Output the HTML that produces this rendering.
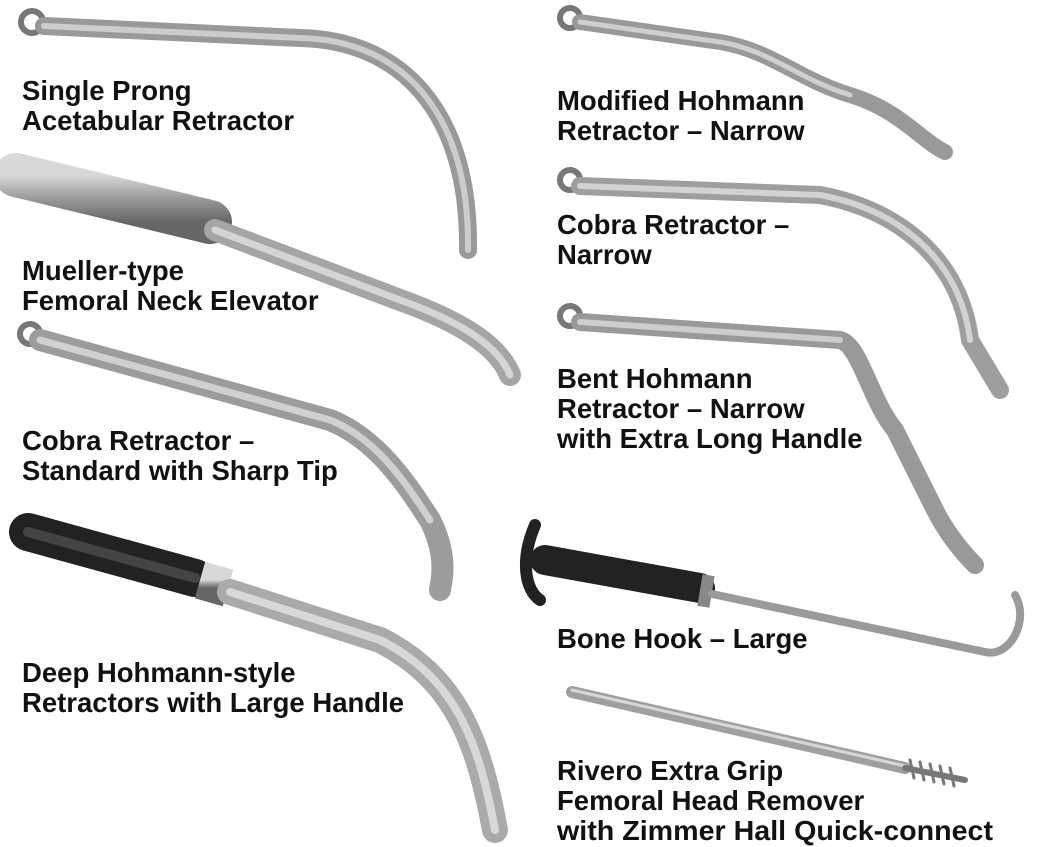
<!DOCTYPE html>
<html><head><meta charset="utf-8"><style>
html,body{margin:0;padding:0;background:#fff;}
svg{display:block}
text{font-family:"Liberation Sans",sans-serif;font-weight:bold;font-size:27.5px;fill:#111;}
</style></head><body>
<svg width="1040" height="847" viewBox="0 0 1040 847" xmlns="http://www.w3.org/2000/svg">
<defs>
<linearGradient id="h" x1="0" y1="0" x2="0" y2="1">
<stop offset="0" stop-color="#d8d8d8"/><stop offset="0.5" stop-color="#9a9a9a"/><stop offset="1" stop-color="#666"/></linearGradient>
</defs>
<g fill="none" stroke-linecap="round" stroke-linejoin="round">
<!-- 1 single prong -->
<circle cx="32" cy="22" r="11" stroke="#777" stroke-width="6"/>
<path d="M44 26 L300 38 C400 40 470 110 468 250" stroke="#999" stroke-width="18"/>
<path d="M44 26 L300 38 C400 40 470 110 468 250" stroke="#ccc" stroke-width="6"/>
<!-- 2 mueller -->
<path d="M16 175 L210 222" stroke="url(#h)" stroke-width="44"/>
<path d="M215 230 L400 300 C470 325 500 350 510 375" stroke="#a5a5a5" stroke-width="22"/>
<path d="M215 230 L400 300 C470 325 500 350 510 375" stroke="#d5d5d5" stroke-width="7"/>
<!-- 3 cobra standard -->
<circle cx="30" cy="334" r="10" stroke="#777" stroke-width="6"/>
<path d="M40 340 L330 420 C380 440 410 490 430 520 C450 560 440 585 440 590" stroke="#9c9c9c" stroke-width="22"/>
<path d="M40 340 L330 420 C380 440 410 490 430 520" stroke="#d0d0d0" stroke-width="7"/>
<!-- 4 deep hohmann -->
<path d="M28 532 L195 578" stroke="#222" stroke-width="38"/>
<path d="M28 532 L195 578" stroke="#444" stroke-width="10"/>
<path d="M200 580 L228 588" stroke="url(#h)" stroke-width="38" stroke-linecap="butt"/>
<path d="M230 592 L380 640 C460 680 480 750 495 830" stroke="#aaa" stroke-width="26"/>
<path d="M230 592 L380 640 C460 680 480 750 495 830" stroke="#d8d8d8" stroke-width="8"/>
<!-- 5 modified hohmann -->
<circle cx="570" cy="18" r="10" stroke="#777" stroke-width="6"/>
<path d="M580 22 L720 42 C770 50 800 80 850 95 C900 110 920 140 945 152" stroke="#999" stroke-width="16"/>
<path d="M580 22 L720 42 C770 50 800 80 850 95" stroke="#cfcfcf" stroke-width="5"/>
<!-- 6 cobra narrow -->
<circle cx="570" cy="180" r="10" stroke="#777" stroke-width="6"/>
<path d="M580 186 L820 195 C900 210 960 260 970 340 L1000 390" stroke="#9e9e9e" stroke-width="18"/>
<path d="M580 186 L820 195 C900 210 960 260 970 340" stroke="#d2d2d2" stroke-width="6"/>
<!-- 7 bent hohmann -->
<circle cx="570" cy="316" r="10" stroke="#777" stroke-width="6"/>
<path d="M580 322 L840 340 C860 345 870 400 895 430 L935 510 C945 530 960 550 975 565" stroke="#999" stroke-width="18"/>
<path d="M580 322 L840 340" stroke="#cdcdcd" stroke-width="6"/>
<!-- 8 bone hook -->
<path d="M535 525 C520 560 525 590 540 600" stroke="#222" stroke-width="12"/>
<path d="M545 560 L700 588" stroke="#222" stroke-width="30"/>
<path d="M700 590 L712 592" stroke="#888" stroke-width="32" stroke-linecap="butt"/>
<path d="M712 594 L985 652 C1010 658 1030 620 1015 595" stroke="#9a9a9a" stroke-width="8"/>
<!-- 9 rivero -->
<path d="M572 692 L905 768" stroke="#a0a0a0" stroke-width="12"/>
<path d="M572 690 L905 766" stroke="#d8d8d8" stroke-width="3"/>
<path d="M905 768 L965 780" stroke="#777" stroke-width="6"/>
<path d="M910 760 l4 18 M920 762 l4 18 M930 764 l4 18 M940 766 l4 18 M950 768 l4 18" stroke="#777" stroke-width="3"/>
</g>
<text x="22" y="100">Single Prong</text>
<text x="22" y="130">Acetabular Retractor</text>
<text x="22" y="280">Mueller-type</text>
<text x="22" y="310">Femoral Neck Elevator</text>
<text x="22" y="450">Cobra Retractor –</text>
<text x="22" y="480">Standard with Sharp Tip</text>
<text x="22" y="682">Deep Hohmann-style</text>
<text x="22" y="712">Retractors with Large Handle</text>
<text x="557" y="110">Modified Hohmann</text>
<text x="557" y="140">Retractor – Narrow</text>
<text x="557" y="234">Cobra Retractor –</text>
<text x="557" y="264">Narrow</text>
<text x="557" y="388">Bent Hohmann</text>
<text x="557" y="418">Retractor – Narrow</text>
<text x="557" y="448">with Extra Long Handle</text>
<text x="557" y="648">Bone Hook – Large</text>
<text x="557" y="780">Rivero Extra Grip</text>
<text x="557" y="810">Femoral Head Remover</text>
<text x="557" y="840" textLength="436" lengthAdjust="spacingAndGlyphs">with Zimmer Hall Quick-connect</text>
</svg>
</body></html>
